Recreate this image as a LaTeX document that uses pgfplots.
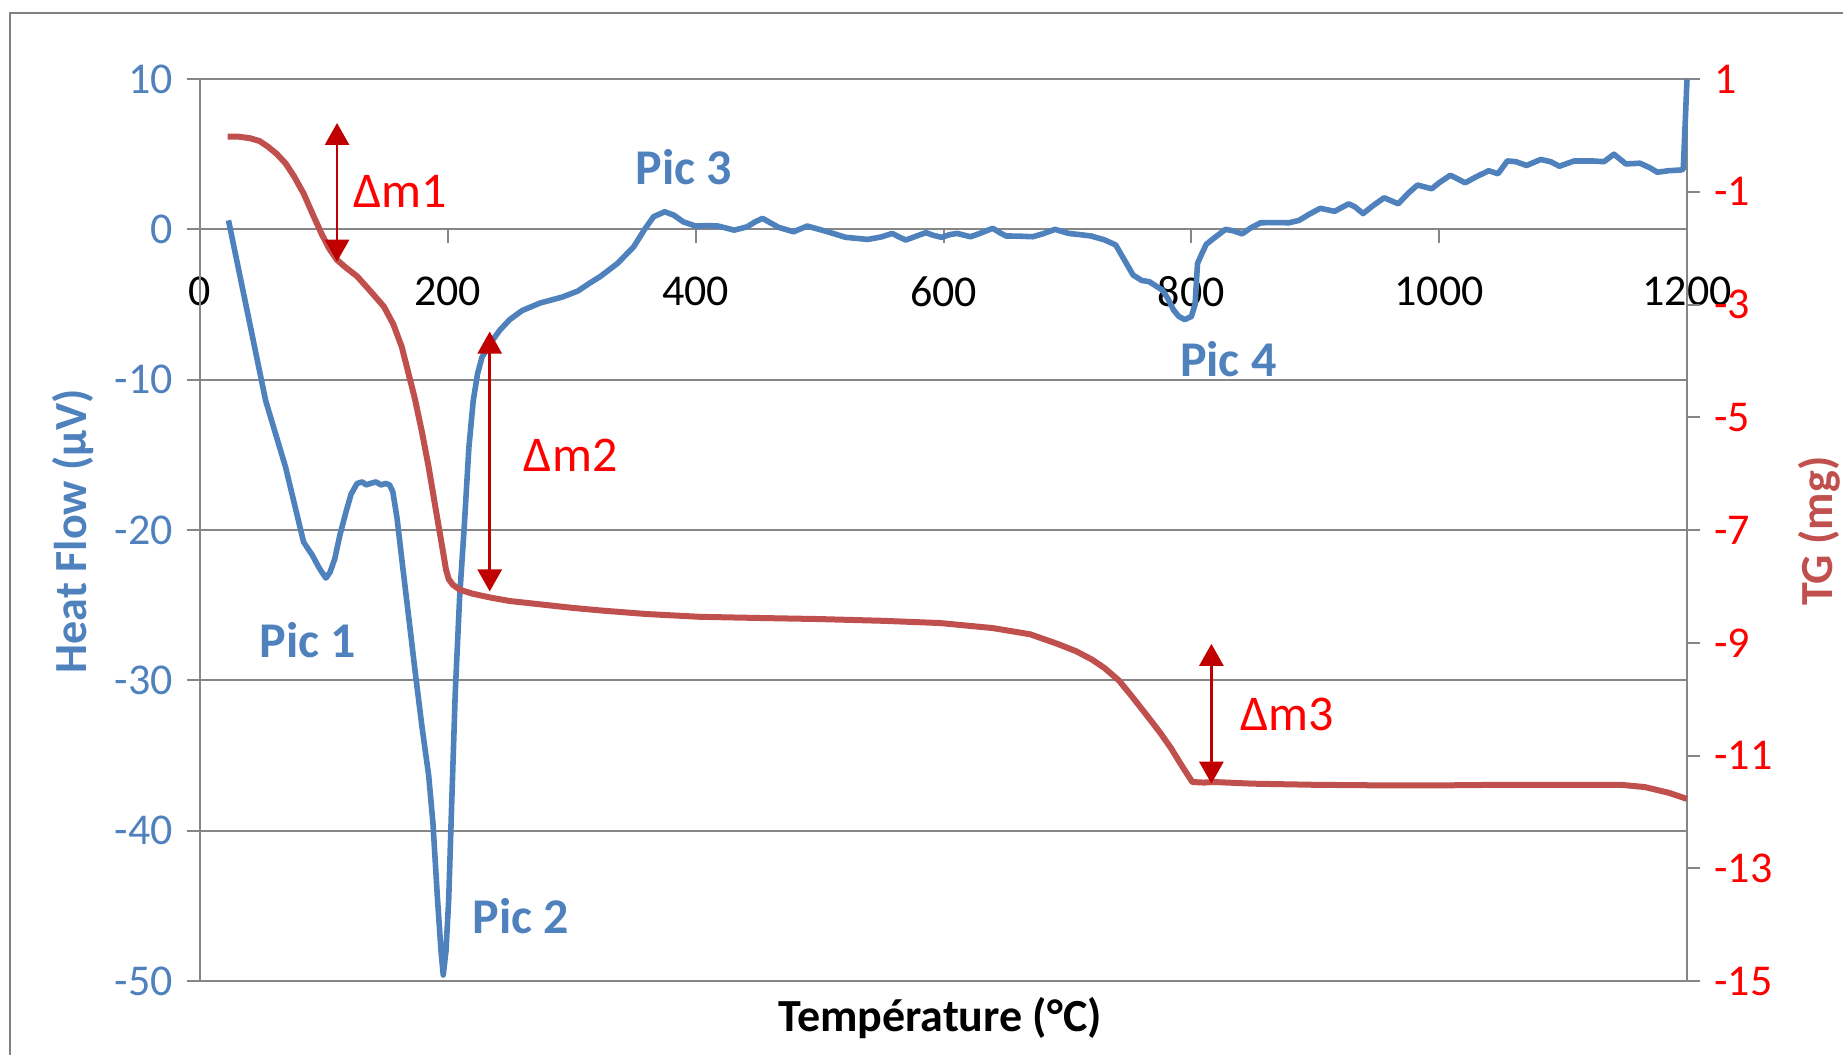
\documentclass[border=0pt]{standalone}
\usepackage{fontspec}
\setmainfont{Carlito}
\usepackage{pgfplots}
\usepackage{pgfplotstable}
\pgfplotsset{compat=1.18}
\usetikzlibrary{arrows.meta}

\definecolor{hfblue}{RGB}{79,129,189}
\definecolor{tgred}{RGB}{192,80,77}
\definecolor{lblred}{RGB}{255,0,0}
\definecolor{arrred}{RGB}{192,0,0}
\definecolor{gridgray}{RGB}{134,134,134}
\definecolor{framegray}{RGB}{128,128,128}

% heat flow (uV) against temperature
\pgfplotstableread{
T hf
23 0.6
40 -6.2
53 -11.4
69 -15.8
83.6 -20.8
90.8 -21.7
96 -22.5
101.6 -23.2
105 -22.8
108.8 -21.9
113 -20.3
117.8 -18.8
122 -17.6
126.8 -16.9
131 -16.8
134 -17.0
137.6 -16.9
142 -16.8
146 -17.0
150 -16.9
153 -17.0
155.6 -17.45
159 -19.2
162.8 -21.9
168 -25.5
173.6 -29.4
179 -33.0
184.5 -36.3
188 -39.5
191.7 -44.6
194.5 -48.0
196.3 -49.6
198.5 -48.0
200.7 -44.6
203 -38.5
206 -30.8
209.5 -24.5
213.3 -19.7
217 -14.5
220.5 -11.4
224 -9.6
227.6 -8.5
235 -7.5
242 -6.7
250 -6.0
260 -5.4
274.5 -4.9
292.5 -4.5
305 -4.1
314 -3.6
322.8 -3.15
337 -2.26
350 -1.16
358.8 0
366 0.84
375 1.17
382.3 0.95
390 0.5
400 0.22
410 0.25
418 0.22
424 0.1
431 -0.05
436 0.05
441.5 0.17
448 0.5
454 0.73
460 0.45
467 0.13
479 -0.16
490 0.22
506.5 -0.16
521 -0.53
530 -0.6
539 -0.67
550 -0.5
558.7 -0.27
564 -0.5
569.6 -0.71
578 -0.45
585.8 -0.22
592 -0.4
598.4 -0.53
605 -0.35
611 -0.27
621.8 -0.49
630 -0.25
639.8 0.07
645 -0.2
650.5 -0.44
660 -0.45
672 -0.49
680 -0.3
690 0.0
701 -0.27
710 -0.35
719 -0.44
730 -0.7
739 -1.04
746 -2.04
753 -3.04
760 -3.4
766 -3.48
776.7 -4.04
781 -4.6
785.7 -5.37
790 -5.8
794.7 -6.0
800 -5.8
803 -5.0
805 -2.26
808.6 -1.6
812 -1.0
818 -0.6
827.6 0.0
834 -0.1
841 -0.3
848 0.1
856 0.44
868 0.45
879 0.44
887 0.6
895 1.0
904 1.4
915.6 1.2
927 1.7
932 1.5
938.6 1.05
947 1.6
955.6 2.1
967 1.7
975 2.4
982.5 2.95
994 2.7
1000 3.1
1009 3.6
1021 3.1
1030 3.5
1040 3.9
1047.5 3.7
1055 4.55
1062 4.5
1070.5 4.25
1082 4.65
1090 4.5
1097 4.2
1109 4.55
1124 4.55
1133 4.5
1141 5.0
1150.7 4.35
1162 4.4
1170 4.1
1176 3.8
1185 3.9
1195 3.95
1197 4.0
1200 10
}\hfdata

% TG (mg) against temperature
\pgfplotstableread{
T tg
22.3 -0.02
30 -0.02
40.3 -0.05
48 -0.1
54.8 -0.2
62 -0.33
69.2 -0.5
76 -0.73
83.6 -1.03
91 -1.4
98 -1.74
104 -2.0
110.6 -2.21
118 -2.35
126.8 -2.5
137 -2.75
148.5 -3.04
156 -3.35
162.8 -3.75
168 -4.2
173.6 -4.69
179 -5.25
184.5 -5.88
190 -6.6
195.3 -7.28
198.5 -7.7
200.7 -7.87
204 -7.97
209.7 -8.06
220 -8.13
234.8 -8.2
250 -8.26
270.9 -8.31
300 -8.38
325 -8.43
360 -8.49
403.5 -8.54
450 -8.56
500 -8.58
550 -8.61
597 -8.65
640 -8.74
670 -8.85
692 -9.02
707 -9.15
720 -9.3
730 -9.45
741.6 -9.67
752 -9.95
764.5 -10.3
775 -10.6
783.6 -10.87
792 -11.17
800.8 -11.47
810 -11.48
818 -11.47
850 -11.5
900 -11.52
955.5 -11.53
1000 -11.53
1050 -11.52
1108.8 -11.52
1146.7 -11.52
1166 -11.56
1185 -11.66
1200 -11.77
}\tgdata

\newcommand{\ticksize}{\fontsize{11}{13}\selectfont}
\newcommand{\annsize}{\fontsize{12.5}{15}\selectfont}

\begin{document}
\begin{tikzpicture}
\path[use as bounding box] (-50pt,-18.25pt) rectangle (410.75pt,245.25pt);
\draw[framegray, line width=0.7pt] (-47.5pt,-30pt) -- (-47.5pt,242pt) -- (420pt,242pt);

\pgfplotsset{
  common/.style={
    at={(0,0)}, anchor=south west,
    scale only axis, width=371.75pt, height=225.5pt,
    xmin=0, xmax=1200, clip=false,
    axis line style={draw=none},
    tick style={draw=gridgray, line width=0.5pt},
    major tick length=3.3pt,
    /pgf/number format/assume math mode=true,
    /pgf/number format/1000 sep={},
  },
}

\begin{axis}[common,
  ymin=-50, ymax=10,
  axis x line=middle, axis y line=left,
  hide obscured x ticks=false, hide obscured y ticks=false,
  xtick={0,200,...,1200}, ytick={-50,-40,...,10},
  xtick align=outside, ytick align=outside,
  ymajorgrids, grid style={gridgray, line width=0.5pt},
  xticklabel style={font=\ticksize, text=black, yshift=-5pt},
  yticklabel style={font=\ticksize, text=hfblue},
]
% vertical axis lines at both ends of the plot area
\draw[gridgray, line width=0.5pt] (rel axis cs:0,0) -- (rel axis cs:0,1);
\draw[gridgray, line width=0.5pt] (rel axis cs:1,0) -- (rel axis cs:1,1);
\addplot[hfblue, line width=1.4pt, line join=round] table[x=T, y=hf] {\hfdata};
\node[hfblue, font=\annsize\bfseries] at (axis cs:87,-27.3) {Pic 1};
\node[hfblue, font=\annsize\bfseries] at (axis cs:258.8,-45.7) {Pic 2};
\node[hfblue, font=\annsize\bfseries] at (axis cs:390.6,4.15) {Pic 3};
\node[hfblue, font=\annsize\bfseries] at (axis cs:829.8,-8.6) {Pic 4};
\node[lblred, font=\annsize, anchor=west, inner sep=0pt] at (axis cs:123,2.5) {Δm1};
\node[lblred, font=\annsize, anchor=west, inner sep=0pt] at (axis cs:260.7,-15.0) {Δm2};
\node[lblred, font=\annsize, anchor=west, inner sep=0pt] at (axis cs:839,-32.3) {Δm3};
\end{axis}

\begin{axis}[common,
  ymin=-15, ymax=1,
  axis x line=none, axis y line=right,
  ytick={-15,-13,...,1},
  ytick align=outside,
  yticklabel style={font=\ticksize, text=lblred},
]
\addplot[tgred, line width=1.5pt, line join=round] table[x=T, y=tg] {\tgdata};
\addplot[arrred, line width=0.7pt, {Triangle[width=6pt,length=5.5pt]}-{Triangle[width=6pt,length=5.5pt]}] coordinates {(110.6,0.22) (110.6,-2.24)};
\addplot[arrred, line width=0.7pt, {Triangle[width=6pt,length=5.5pt]}-{Triangle[width=6pt,length=5.5pt]}] coordinates {(233.8,-3.48) (233.8,-8.09)};
\addplot[arrred, line width=0.7pt, {Triangle[width=6pt,length=5.5pt]}-{Triangle[width=6pt,length=5.5pt]}] coordinates {(816.2,-9.02) (816.2,-11.5)};
\end{axis}

\node[hfblue, font=\fontsize{11.5}{14}\selectfont\bfseries, rotate=90] at (-31.8pt,112.5pt) {Heat Flow (µV)};
\node[tgred, font=\fontsize{11.5}{14}\selectfont\bfseries, rotate=90] at (404.9pt,112.5pt) {TG (mg)};
\node[black, font=\fontsize{11.5}{14}\selectfont\bfseries] at (185pt,-9.25pt) {Température (°C)};
\end{tikzpicture}
\end{document}
